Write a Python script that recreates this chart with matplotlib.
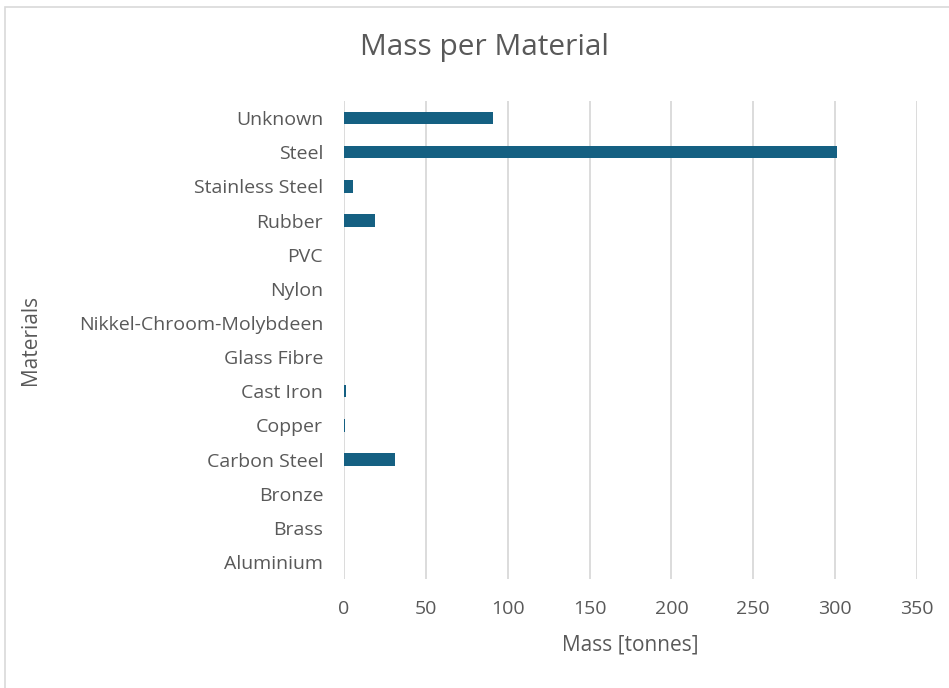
import matplotlib.pyplot as plt
from matplotlib.patches import Rectangle

# Materials listed top to bottom, with mass in tonnes
materials = ['Unknown', 'Steel', 'Stainless Steel', 'Rubber', 'PVC', 'Nylon',
             'Nikkel-Chroom-Molybdeen', 'Glass Fibre', 'Cast Iron', 'Copper',
             'Carbon Steel', 'Bronze', 'Brass', 'Aluminium']
mass = [91, 301, 5.5, 19, 0, 0, 0, 0, 1.5, 0.4, 31, 0, 0, 0]
xticks = [0, 50, 100, 150, 200, 250, 300, 350]

text_col = '#595959'
bar_col = '#156082'
plt.rcParams['font.family'] = ['Open Sans', 'DejaVu Sans']

W, H = 949, 688
fig = plt.figure(figsize=(W / 100, H / 100), dpi=100)
ax = fig.add_axes([344 / W, 1 - 579 / H, (917 - 344) / W, (579 - 101) / H])

# chart border (left and top edges show, the rest runs off the canvas)
fig.patches.append(Rectangle((5 / W, -0.1), 1.2, 1.1 - 7 / H,
                             transform=fig.transFigure, fill=False,
                             edgecolor='#D9D9D9', linewidth=1.2))

ypos = list(range(len(materials)))[::-1]
ax.barh(ypos, mass, height=0.36, color=bar_col, zorder=3)

ax.set_xlim(0, 350)
ax.set_ylim(-0.5, len(materials) - 0.5)
ax.set_xticks(xticks)
ax.set_yticks(ypos)
ax.set_yticklabels(materials)
ax.grid(axis='x', color='#D9D9D9', linewidth=1.3, zorder=0)
for s in ax.spines.values():
    s.set_visible(False)
ax.tick_params(axis='both', length=0, labelsize=14, labelcolor=text_col)
ax.tick_params(axis='y', pad=15)
ax.tick_params(axis='x', pad=15)

fig.text(630 / W, 1 - 645 / H, 'Mass [tonnes]', fontsize=15,
         color=text_col, ha='center', va='center')
fig.text(31 / W, 1 - 340 / H, 'Materials', fontsize=15, rotation=90,
         color=text_col, ha='center', va='center')
fig.text(485 / W, 1 - 48 / H, 'Mass per Material', fontsize=21.5,
         color=text_col, ha='center', va='center')

fig.savefig('out.png', dpi=100)
